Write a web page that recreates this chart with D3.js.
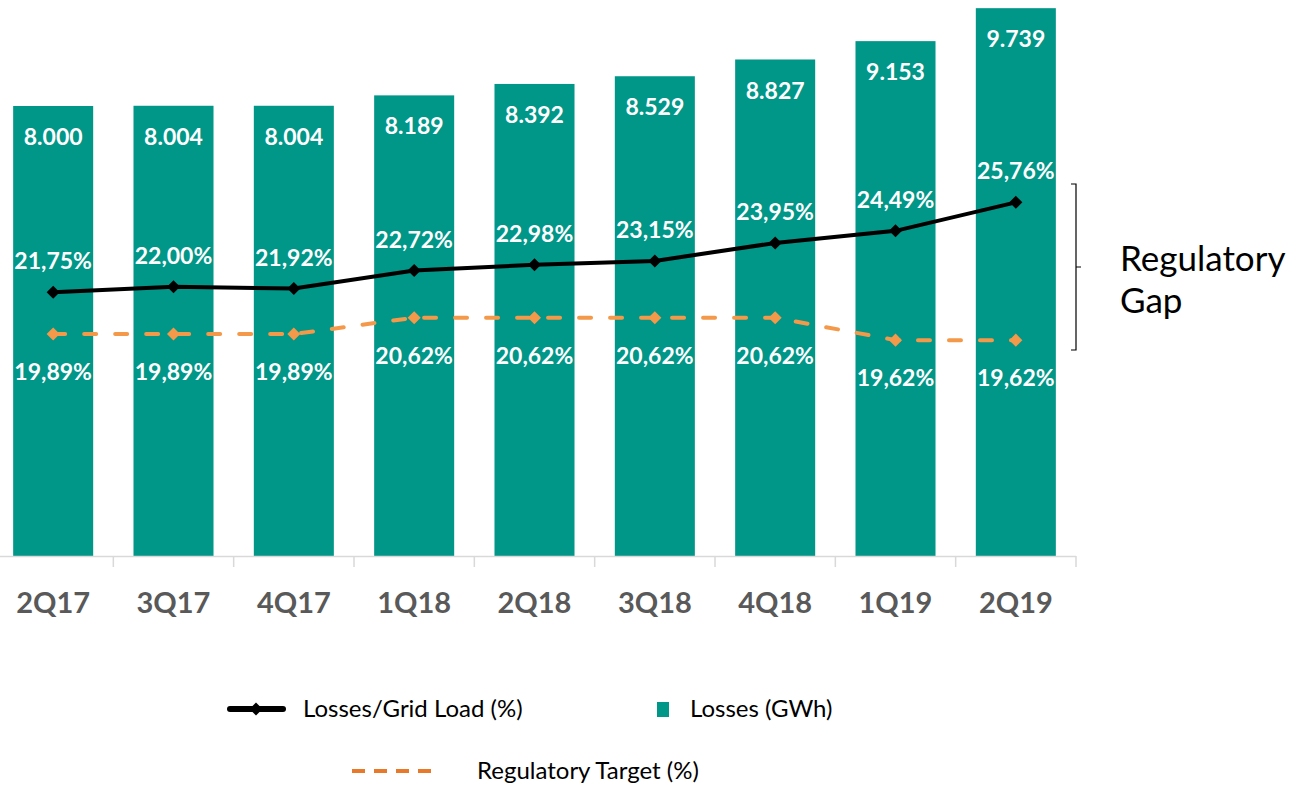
<!DOCTYPE html>
<html>
<head>
<meta charset="utf-8">
<script src="https://cdn.jsdelivr.net/npm/d3@7"></script>
<style>
  body { margin: 0; background: #fff; }
  svg text { font-family: Lato, "Open Sans", sans-serif; }
</style>
</head>
<body>
<div id="w"></div>
<script>
var quarters = ["2Q17","3Q17","4Q17","1Q18","2Q18","3Q18","4Q18","1Q19","2Q19"]
var lossesGWh = [8.000, 8.004, 8.004, 8.189, 8.392, 8.529, 8.827, 9.153, 9.739]
var lossesPct = [21.75, 22.00, 21.92, 22.72, 22.98, 23.15, 23.95, 24.49, 25.76]
var targetPct = [19.89, 19.89, 19.89, 20.62, 20.62, 20.62, 20.62, 19.62, 19.62]

var W = 1291, H = 785
var teal = "#009688", orange = "#F4994A"

var svg = d3.select("#w").append("svg")
  .attr("width", W)
  .attr("height", H)

var x = d3.scaleBand().domain(quarters).range([-7, 1076]).paddingInner(0.335).paddingOuter(0.1675)
var yBar = d3.scaleLinear().domain([0, 10]).range([556, -6.5])
var yPct = d3.scaleLinear().domain([10, 35]).range([556, -5])

var cx = function(d, i) { return x(quarters[i]) + x.bandwidth() / 2 }
var fmtPct = function(v) { return v.toFixed(2).replace(".", ",") + "%" }
var fmtGWh = function(v) { return v.toFixed(3) }

// bars
svg.selectAll("rect.bar")
  .data(lossesGWh)
  .enter().append("rect")
  .attr("class", "bar")
  .attr("x", function(d, i) { return x(quarters[i]) })
  .attr("width", x.bandwidth())
  .attr("y", function(d) { return yBar(d) })
  .attr("height", function(d) { return yBar(0) - yBar(d) })
  .attr("fill", teal)

// x axis line + ticks at band edges
var step = x.step()
svg.append("line")
  .attr("x1", 0).attr("x2", 1076)
  .attr("y1", 556.5).attr("y2", 556.5)
  .attr("stroke", "#d9d9d9").attr("stroke-width", 1.5)
svg.selectAll("line.tick")
  .data(d3.range(1, quarters.length + 1))
  .enter().append("line")
  .attr("class", "tick")
  .attr("x1", function(k) { return -7 + k * step }).attr("x2", function(k) { return -7 + k * step })
  .attr("y1", 556).attr("y2", 567)
  .attr("stroke", "#d9d9d9").attr("stroke-width", 1.5)

svg.selectAll("text.cat")
  .data(quarters)
  .enter().append("text")
  .attr("class", "cat")
  .attr("x", function(d) { return x(d) + x.bandwidth() / 2 })
  .attr("y", 613)
  .attr("text-anchor", "middle")
  .attr("font-size", 29).attr("font-weight", "bold")
  .attr("fill", "#595959")
  .text(function(d) { return d })

// lines
var lineGen = function(arr) {
  return d3.line().x(function(d, i) { return cx(d, i) }).y(function(d) { return yPct(d) })(arr)
}
svg.append("path")
  .attr("d", lineGen(targetPct))
  .attr("fill", "none").attr("stroke", orange).attr("stroke-width", 4)
  .attr("stroke-dasharray", "12,19").attr("stroke-linecap", "round")
svg.append("path")
  .attr("d", lineGen(lossesPct))
  .attr("fill", "none").attr("stroke", "#000").attr("stroke-width", 4)

var diamond = d3.symbol().type(d3.symbolSquare).size(85)
var mark = function(d, i) { return "translate(" + cx(d, i) + "," + yPct(d) + ") rotate(45)" }
svg.selectAll("path.dt")
  .data(targetPct)
  .enter().append("path")
  .attr("class", "dt")
  .attr("d", diamond)
  .attr("transform", mark)
  .attr("fill", orange)
svg.selectAll("path.dl")
  .data(lossesPct)
  .enter().append("path")
  .attr("class", "dl")
  .attr("d", diamond)
  .attr("transform", mark)
  .attr("fill", "#000")

// labels
svg.selectAll("text.vb")
  .data(lossesGWh)
  .enter().append("text")
  .attr("class", "vb")
  .attr("x", cx)
  .attr("y", function(d) { return yBar(d) + 31 })
  .attr("dy", "0.35em")
  .attr("text-anchor", "middle")
  .attr("font-size", 23).attr("font-weight", "bold").attr("fill", "#fff")
  .text(fmtGWh)
svg.selectAll("text.vl")
  .data(lossesPct)
  .enter().append("text")
  .attr("class", "vl")
  .attr("x", cx)
  .attr("y", function(d) { return yPct(d) - 31 })
  .attr("dy", "0.35em")
  .attr("text-anchor", "middle")
  .attr("font-size", 23).attr("font-weight", "bold").attr("fill", "#fff")
  .text(fmtPct)
svg.selectAll("text.vt")
  .data(targetPct)
  .enter().append("text")
  .attr("class", "vt")
  .attr("x", cx)
  .attr("y", function(d) { return yPct(d) + 38 })
  .attr("dy", "0.35em")
  .attr("text-anchor", "middle")
  .attr("font-size", 23).attr("font-weight", "bold").attr("fill", "#fff")
  .text(fmtPct)

// regulatory gap bracket
var gTop = 184, gBot = 350, gMid = 267
svg.append("path")
  .attr("d", "M1071," + gTop + "H1076V" + gBot + "H1071M1076," + gMid + "H1081")
  .attr("fill", "none").attr("stroke", "#000").attr("stroke-width", 1.2)
svg.append("text").attr("x", 1120).attr("y", 271)
  .attr("font-size", 35).attr("fill", "#000").text("Regulatory")
svg.append("text").attr("x", 1120).attr("y", 313)
  .attr("font-size", 35).attr("fill", "#000").text("Gap")

// legend
var lg = svg.append("g").attr("font-size", 24).attr("fill", "#000")
lg.append("line").attr("x1", 230).attr("x2", 283).attr("y1", 709).attr("y2", 709)
  .attr("stroke", "#000").attr("stroke-width", 6).attr("stroke-linecap", "round")
lg.append("path").attr("d", diamond).attr("transform", "translate(256,709) rotate(45)").attr("fill", "#000")
lg.append("text").attr("x", 303).attr("y", 709).attr("dy", "0.35em").text("Losses/Grid Load (%)")
lg.append("rect").attr("x", 657).attr("y", 702).attr("width", 12).attr("height", 15).attr("fill", teal)
lg.append("text").attr("x", 690).attr("y", 709).attr("dy", "0.35em").text("Losses (GWh)")
lg.append("line").attr("x1", 352).attr("x2", 433).attr("y1", 771).attr("y2", 771)
  .attr("stroke", "#E8792A").attr("stroke-width", 4).attr("stroke-dasharray", "13,9")
lg.append("text").attr("x", 477).attr("y", 771).attr("dy", "0.35em").text("Regulatory Target (%)")
</script>
</body>
</html>
